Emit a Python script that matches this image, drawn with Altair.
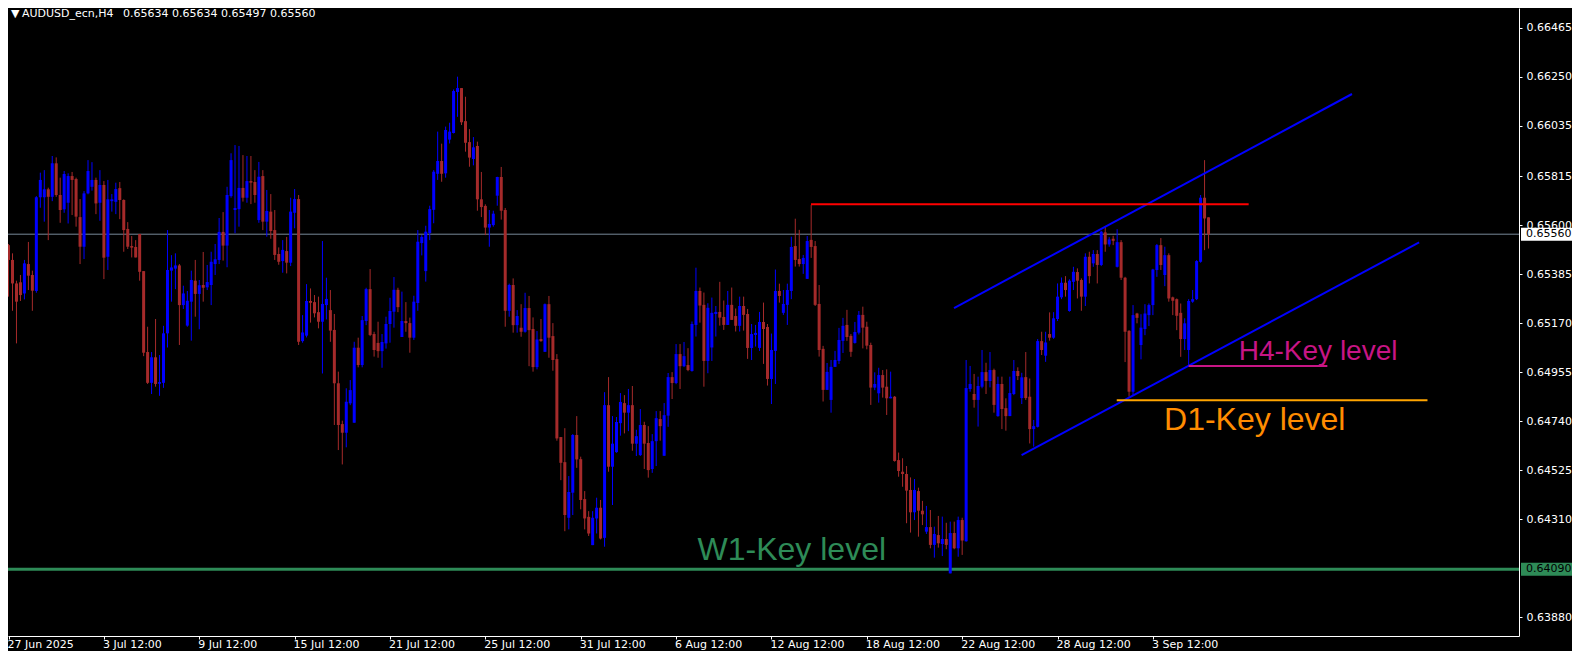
import altair as alt
import pandas as pd

# ---------------- data (AUDUSD_ecn, H4) ----------------
opens = [0.65512,0.65447,0.65344,0.65349,0.65300,0.65429,0.65381,0.65311,0.65722,0.65722,
0.65757,0.65724,0.65871,0.65732,0.65669,0.65698,0.65815,0.65802,0.65635,0.65505,
0.65739,0.65768,0.65798,0.65698,0.65776,0.65461,0.65705,0.65702,0.65762,0.65710,
0.65583,0.65508,0.65504,0.65561,0.65398,0.65043,0.64908,0.65020,0.64904,0.64908,
0.65125,0.65400,0.65409,0.65423,0.65249,0.65159,0.65264,0.65356,0.65298,0.65337,
0.65327,0.65337,0.65429,0.65447,0.65570,0.65510,0.65727,0.65666,0.65670,0.65763,
0.65720,0.65793,0.65789,0.65622,0.65815,0.65615,0.65659,0.65578,0.65473,0.65442,
0.65486,0.65435,0.65654,0.65714,0.65091,0.65115,0.65267,0.65262,0.65218,0.65176,
0.65249,0.65227,0.65140,0.64906,0.64727,0.64689,0.64818,0.64733,0.65062,0.64986,
0.65179,0.65319,0.65122,0.65083,0.65047,0.65081,0.65166,0.65220,0.65316,0.65109,
0.65179,0.65170,0.65106,0.65258,0.65521,0.65398,0.65565,0.65667,0.65825,0.65881,
0.65827,0.65975,0.66004,0.66184,0.66201,0.66056,0.65964,0.65890,0.65947,0.65713,
0.65684,0.65589,0.65600,0.65729,0.65811,0.65666,0.65224,0.65337,0.65161,0.65150,
0.65132,0.65236,0.65144,0.64977,0.65100,0.65044,0.65253,0.65113,0.65012,0.64670,
0.64560,0.64316,0.64426,0.64679,0.64573,0.64398,0.64320,0.64196,0.64313,0.64360,
0.64228,0.64810,0.64540,0.64604,0.64731,0.64819,0.64777,0.64810,0.64641,0.64591,
0.64723,0.64644,0.64530,0.64652,0.64749,0.64588,0.64764,0.64933,0.64907,0.65034,
0.64981,0.64986,0.64960,0.65162,0.65311,0.65250,0.65004,0.65063,0.65210,0.65219,
0.65197,0.65162,0.65250,0.65201,0.65158,0.65245,0.65210,0.65061,0.65118,0.65061,
0.65175,0.65153,0.64925,0.65048,0.65311,0.65215,0.65250,0.65311,0.65508,0.65451,
0.65429,0.65364,0.65535,0.65508,0.65254,0.65057,0.64877,0.64833,0.64978,0.65004,
0.65092,0.65162,0.65114,0.65083,0.65128,0.65206,0.65154,0.65074,0.64887,0.64862,
0.64942,0.64891,0.64840,0.64847,0.64569,0.64518,0.64508,0.64438,0.64340,0.64433,
0.64347,0.64255,0.64275,0.64197,0.64240,0.64201,0.64223,0.64072,0.64249,0.64182,
0.64306,0.64213,0.64881,0.64859,0.64833,0.64891,0.64955,0.64916,0.64964,0.64762,
0.64903,0.64797,0.64762,0.64859,0.64960,0.64841,0.64933,0.64847,0.64705,0.64715,
0.65091,0.65027,0.65122,0.65106,0.65188,0.65283,0.65347,0.65223,0.65351,0.65394,
0.65359,0.65286,0.65461,0.65432,0.65473,0.65425,0.65568,0.65515,0.65540,0.65417,
0.65525,0.65369,0.65136,0.64869,0.65212,0.65074,0.65144,0.65205,0.65249,0.65403,
0.65512,0.65381,0.65468,0.65283,0.65275,0.65215,0.65100,0.65052,0.65264,0.65275,
0.65439,0.65720,0.65634]

highs = [0.65517,0.65476,0.65356,0.65381,0.65447,0.65526,0.65400,0.65727,0.65830,0.65841,
0.65764,0.65903,0.65897,0.65808,0.65837,0.65827,0.65833,0.65808,0.65714,0.65749,
0.65885,0.65876,0.65808,0.65841,0.65793,0.65798,0.65736,0.65786,0.65789,0.65713,
0.65613,0.65552,0.65534,0.65561,0.65398,0.65154,0.65043,0.65188,0.65030,0.65158,
0.65578,0.65468,0.65476,0.65429,0.65334,0.65311,0.65400,0.65447,0.65359,0.65482,
0.65425,0.65483,0.65517,0.65631,0.65657,0.65768,0.65915,0.65951,0.65947,0.65907,
0.65903,0.65903,0.65841,0.65877,0.65841,0.65754,0.65736,0.65666,0.65502,0.65534,
0.65548,0.65720,0.65758,0.65732,0.65205,0.65341,0.65322,0.65293,0.65286,0.65530,
0.65369,0.65315,0.65210,0.64957,0.64742,0.64884,0.64920,0.65088,0.65106,0.65201,
0.65325,0.65407,0.65132,0.65176,0.65122,0.65198,0.65281,0.65372,0.65325,0.65308,
0.65262,0.65194,0.65290,0.65578,0.65556,0.65597,0.65685,0.65841,0.66010,0.65957,
0.66032,0.66049,0.66195,0.66251,0.66201,0.66163,0.66021,0.65986,0.65966,0.65833,
0.65691,0.65666,0.65663,0.65812,0.65855,0.65675,0.65343,0.65366,0.65227,0.65253,
0.65303,0.65289,0.65195,0.65135,0.65188,0.65256,0.65289,0.65170,0.65034,0.64670,
0.64709,0.64499,0.64683,0.64762,0.64584,0.64433,0.64345,0.64345,0.64404,0.64394,
0.64867,0.64933,0.64762,0.64758,0.64863,0.64854,0.64881,0.64894,0.64702,0.64793,
0.64737,0.64718,0.64683,0.64784,0.64784,0.64819,0.64951,0.64955,0.65078,0.65078,
0.65087,0.65060,0.65177,0.65413,0.65326,0.65304,0.65257,0.65282,0.65245,0.65351,
0.65269,0.65311,0.65326,0.65234,0.65286,0.65286,0.65232,0.65166,0.65162,0.65219,
0.65260,0.65166,0.65124,0.65405,0.65343,0.65315,0.65343,0.65549,0.65628,0.65579,
0.65469,0.65552,0.65688,0.65530,0.65337,0.65070,0.64995,0.65008,0.65048,0.65149,
0.65193,0.65228,0.65122,0.65175,0.65223,0.65242,0.65176,0.65084,0.64954,0.64974,
0.64964,0.64967,0.64957,0.64850,0.64602,0.64577,0.64543,0.64493,0.64486,0.64448,
0.64390,0.64368,0.64350,0.64277,0.64324,0.64321,0.64294,0.64299,0.64299,0.64321,
0.64316,0.65008,0.64982,0.64947,0.64935,0.65052,0.64996,0.65043,0.64970,0.64935,
0.64935,0.64840,0.64935,0.65008,0.64976,0.64952,0.65043,0.64927,0.64745,0.65100,
0.65132,0.65132,0.65217,0.65218,0.65344,0.65370,0.65376,0.65362,0.65417,0.65410,
0.65366,0.65476,0.65483,0.65490,0.65490,0.65575,0.65596,0.65547,0.65553,0.65582,
0.65534,0.65373,0.65139,0.65249,0.65215,0.65209,0.65253,0.65256,0.65408,0.65517,
0.65543,0.65505,0.65476,0.65286,0.65278,0.65256,0.65191,0.65275,0.65315,0.65446,
0.65732,0.65885,0.65634]

lows = [0.65286,0.65224,0.65081,0.65267,0.65274,0.65315,0.65224,0.65303,0.65676,0.65615,
0.65534,0.65705,0.65724,0.65610,0.65654,0.65607,0.65644,0.65593,0.65429,0.65451,
0.65735,0.65751,0.65648,0.65619,0.65363,0.65403,0.65659,0.65648,0.65626,0.65483,
0.65495,0.65458,0.65458,0.65356,0.65025,0.64903,0.64859,0.64891,0.64851,0.64886,
0.65063,0.65264,0.65319,0.65074,0.65232,0.65154,0.65093,0.65198,0.65143,0.65264,
0.65315,0.65249,0.65381,0.65429,0.65444,0.65415,0.65720,0.65564,0.65593,0.65703,
0.65698,0.65692,0.65698,0.65610,0.65578,0.65549,0.65540,0.65447,0.65426,0.65391,
0.65388,0.65420,0.65586,0.65074,0.65084,0.65107,0.65172,0.65195,0.65147,0.64949,
0.65186,0.65088,0.64723,0.64613,0.64550,0.64625,0.64810,0.64733,0.64976,0.64976,
0.65161,0.65113,0.65023,0.65018,0.64974,0.65058,0.65084,0.65150,0.65218,0.65109,
0.65132,0.65040,0.65096,0.65224,0.65467,0.65352,0.65534,0.65608,0.65798,0.65790,
0.65808,0.65958,0.66002,0.66075,0.66039,0.65922,0.65856,0.65862,0.65663,0.65635,
0.65556,0.65505,0.65593,0.65685,0.65624,0.65154,0.65198,0.65128,0.65128,0.65110,
0.65128,0.64981,0.64957,0.64967,0.65088,0.65044,0.65018,0.64961,0.64654,0.64481,
0.64257,0.64265,0.64328,0.64535,0.64353,0.64265,0.64236,0.64196,0.64247,0.64221,
0.64189,0.64518,0.64372,0.64601,0.64676,0.64686,0.64696,0.64610,0.64587,0.64587,
0.64530,0.64492,0.64513,0.64543,0.64654,0.64588,0.64715,0.64837,0.64902,0.64881,
0.64977,0.64959,0.64957,0.65111,0.65172,0.64891,0.64950,0.65004,0.65111,0.65159,
0.65140,0.65162,0.65184,0.65133,0.65133,0.65137,0.65013,0.65008,0.65067,0.65048,
0.64991,0.64896,0.64815,0.64903,0.65260,0.65206,0.65162,0.65275,0.65418,0.65418,
0.65386,0.65364,0.65456,0.65245,0.65023,0.64826,0.64877,0.64777,0.64978,0.64991,
0.65039,0.65092,0.65022,0.65080,0.65120,0.65059,0.65055,0.64811,0.64876,0.64821,
0.64843,0.64767,0.64840,0.64562,0.64496,0.64452,0.64292,0.64251,0.64306,0.64233,
0.64284,0.64245,0.64182,0.64141,0.64185,0.64148,0.64178,0.64072,0.64178,0.64145,
0.64153,0.64211,0.64869,0.64799,0.64716,0.64884,0.64859,0.64888,0.64777,0.64759,
0.64705,0.64698,0.64762,0.64854,0.64920,0.64815,0.64833,0.64642,0.64628,0.64712,
0.65030,0.65000,0.65093,0.65101,0.65179,0.65275,0.65286,0.65220,0.65315,0.65278,
0.65224,0.65245,0.65344,0.65417,0.65344,0.65420,0.65483,0.65505,0.65512,0.65414,
0.65359,0.64999,0.64847,0.64854,0.65169,0.65011,0.65117,0.65157,0.65205,0.65373,
0.65403,0.65332,0.65264,0.65205,0.65139,0.65022,0.65052,0.64986,0.65259,0.65271,
0.65435,0.65490,0.65497]

closes = [0.65447,0.65344,0.65264,0.65293,0.65432,0.65378,0.65312,0.65722,0.65798,0.65757,
0.65724,0.65871,0.65732,0.65666,0.65824,0.65815,0.65798,0.65637,0.65505,0.65739,
0.65837,0.65798,0.65695,0.65776,0.65457,0.65713,0.65713,0.65758,0.65710,0.65578,
0.65505,0.65501,0.65458,0.65395,0.65040,0.64908,0.65020,0.64903,0.64911,0.65125,
0.65403,0.65414,0.65423,0.65249,0.65300,0.65268,0.65359,0.65298,0.65336,0.65325,
0.65350,0.65439,0.65450,0.65570,0.65510,0.65732,0.65885,0.65675,0.65763,0.65720,
0.65793,0.65786,0.65732,0.65812,0.65615,0.65662,0.65574,0.65469,0.65439,0.65491,
0.65435,0.65659,0.65714,0.65088,0.65129,0.65267,0.65259,0.65213,0.65176,0.65254,
0.65276,0.65137,0.64906,0.64723,0.64689,0.64825,0.64876,0.65062,0.64986,0.65183,
0.65319,0.65118,0.65052,0.65047,0.65087,0.65166,0.65223,0.65316,0.65240,0.65179,
0.65170,0.65106,0.65264,0.65527,0.65548,0.65571,0.65670,0.65834,0.65881,0.65825,
0.66017,0.66010,0.66188,0.66201,0.66051,0.65961,0.65896,0.65941,0.65713,0.65679,
0.65589,0.65605,0.65650,0.65811,0.65663,0.65224,0.65337,0.65161,0.65201,0.65132,
0.65236,0.65139,0.64977,0.65098,0.65091,0.65253,0.65106,0.65008,0.64664,0.64557,
0.64328,0.64429,0.64679,0.64572,0.64394,0.64313,0.64247,0.64316,0.64360,0.64225,
0.64810,0.64540,0.64641,0.64736,0.64824,0.64777,0.64810,0.64641,0.64674,0.64723,
0.64641,0.64525,0.64652,0.64753,0.64718,0.64766,0.64933,0.64907,0.65034,0.64981,
0.65025,0.64964,0.65166,0.65311,0.65247,0.65004,0.65237,0.65215,0.65219,0.65194,
0.65162,0.65250,0.65184,0.65158,0.65245,0.65206,0.65061,0.65122,0.65127,0.65175,
0.65144,0.64925,0.65052,0.65311,0.65289,0.65254,0.65315,0.65504,0.65447,0.65429,
0.65456,0.65530,0.65504,0.65250,0.65052,0.64877,0.64956,0.64978,0.65008,0.65096,
0.65158,0.65109,0.65044,0.65131,0.65206,0.65150,0.65071,0.64887,0.64903,0.64942,
0.64887,0.64840,0.64847,0.64565,0.64521,0.64508,0.64435,0.64340,0.64438,0.64347,
0.64331,0.64275,0.64197,0.64245,0.64204,0.64223,0.64197,0.64249,0.64182,0.64306,
0.64216,0.64885,0.64903,0.64833,0.64894,0.64955,0.64916,0.64964,0.64811,0.64903,
0.64793,0.64762,0.64863,0.64960,0.64938,0.64932,0.64841,0.64705,0.64718,0.65091,
0.65052,0.65085,0.65106,0.65191,0.65286,0.65347,0.65315,0.65356,0.65395,0.65356,
0.65286,0.65461,0.65376,0.65473,0.65425,0.65571,0.65515,0.65537,0.65531,0.65525,
0.65369,0.65132,0.64869,0.65205,0.65193,0.65150,0.65212,0.65249,0.65405,0.65512,
0.65425,0.65468,0.65278,0.65268,0.65202,0.65100,0.65169,0.65267,0.65275,0.65442,
0.65720,0.65629,0.65560]

# time axis: bar numbers of the labelled ticks and their texts
tick_bars = [0, 24, 48, 72, 96, 120, 144, 168, 192, 216, 240, 264, 288]
tick_texts = ["27 Jun 2025", "3 Jul 12:00", "9 Jul 12:00", "15 Jul 12:00", "21 Jul 12:00",
              "25 Jul 12:00", "31 Jul 12:00", "6 Aug 12:00", "12 Aug 12:00", "18 Aug 12:00",
              "22 Aug 12:00", "28 Aug 12:00", "3 Sep 12:00"]

# price axis labels
price_ticks = [0.66465, 0.66250, 0.66035, 0.65815, 0.65600, 0.65385, 0.65170,
               0.64955, 0.64740, 0.64525, 0.64310, 0.63880]

# drawn objects
bid_price = 0.65560
w1_level = 0.64090
upper_channel_bars = [237.95, 338.1]
upper_channel_prices = [0.65236, 0.66175]
lower_channel_bars = [254.95, 355.0]
lower_channel_prices = [0.64591, 0.65524]
red_level = {"bar": 201.95, "bar2": 312.1, "price": 0.65691}
h4_level = {"bar": 297.0, "bar2": 331.9, "price": 0.64982}
d1_level = {"bar": 278.9, "bar2": 357.1, "price": 0.64831}

header_name = "AUDUSD_ecn,H4"
header_ohlc = "0.65634 0.65634 0.65497 0.65560"

# ---------------- chart ----------------
W, H = 1511, 628
X_DOMAIN = [1.125, 378.875]
Y_DOMAIN = [0.637973, 0.665523]
BULL, BEAR = "#0000FF", "#A52A2A"

bars = pd.DataFrame({"bar": list(range(len(opens))), "open": opens, "high": highs,
                     "low": lows, "close": closes})
bars["dir"] = ["up" if c >= o else "down" for o, c in zip(opens, closes)]

xs = alt.Scale(domain=X_DOMAIN, nice=False, zero=False)
ys = alt.Scale(domain=Y_DOMAIN, nice=False, zero=False)
col = alt.Color("dir:N", scale=alt.Scale(domain=["up", "down"], range=[BULL, BEAR]), legend=None)

FONT = "DejaVu Sans"

wicks = alt.Chart(bars).mark_rule(strokeWidth=1, clip=True).encode(
    x=alt.X("bar:Q", scale=xs, title=None,
            axis=alt.Axis(values=tick_bars, labels=False, ticks=True, tickSize=3,
                          tickColor="white", domainColor="white", grid=False)),
    y=alt.Y("high:Q", scale=ys, title=None,
            axis=alt.Axis(orient="right", values=price_ticks, format=".5f", tickSize=3,
                          labelPadding=4, tickColor="white", domainColor="white",
                          labelColor="white", labelFont=FONT, labelFontSize=11, grid=False)),
    y2="low:Q",
    color=col,
)
bodies = alt.Chart(bars).mark_bar(size=3, clip=True).encode(
    x=alt.X("bar:Q", title=None), y=alt.Y("open:Q", title=None), y2="close:Q", color=col)

hlines = pd.DataFrame({"price": [bid_price, w1_level], "w": [1, 3],
                       "c": ["#778899", "#2E8B57"]})
hrules = alt.Chart(hlines).mark_rule(clip=True).encode(
    y=alt.Y("price:Q", title=None),
    color=alt.Color("c:N", scale=None),
    strokeWidth=alt.StrokeWidth("w:Q", scale=None),
)

chan = pd.DataFrame({
    "line": ["up", "up", "low", "low"],
    "bar": upper_channel_bars + lower_channel_bars,
    "price": upper_channel_prices + lower_channel_prices,
})
channel = alt.Chart(chan).mark_line(color="#0000FF", strokeWidth=2, clip=True).encode(
    x=alt.X("bar:Q", title=None), y=alt.Y("price:Q", title=None), detail="line:N")

levels = pd.DataFrame([
    dict(red_level, c="#FF0000"),
    dict(h4_level, c="#C71585"),
    dict(d1_level, c="#FFA500"),
])
level_rules = alt.Chart(levels).mark_rule(strokeWidth=2, clip=True).encode(
    x=alt.X("bar:Q", title=None), x2="bar2:Q", y=alt.Y("price:Q", title=None),
    color=alt.Color("c:N", scale=None))

labels_df = pd.DataFrame([
    {"bar": 309.6, "price": 0.65008, "t": "H4-Key level", "c": "#C71585", "s": 28},
    {"bar": 290.8, "price": 0.64701, "t": "D1-Key level", "c": "#FF8C00", "s": 32},
    {"bar": 173.4, "price": 0.64131, "t": "W1-Key level", "c": "#2E8B57", "s": 32},
])
key_text = alt.Chart(labels_df).mark_text(align="left", baseline="alphabetic",
                                           font="Liberation Sans").encode(
    x=alt.X("bar:Q", title=None), y=alt.Y("price:Q", title=None), text="t:N",
    color=alt.Color("c:N", scale=None), size=alt.Size("s:Q", scale=None))

# time labels under the axis
xl = pd.DataFrame({"bar": tick_bars, "t": tick_texts})
x_labels = alt.Chart(xl).mark_text(align="left", baseline="middle", font=FONT, fontSize=11,
                                   color="white", dx=-1, clip=False).encode(
    x=alt.X("bar:Q", title=None), y=alt.value(636.8), text="t:N")

# price boxes on the right scale
box_half = 0.000285
pb = pd.DataFrame({"price": [bid_price, w1_level], "t": ["0.65560", "0.64090"],
                   "fill": ["#FFFFFF", "#2E8B57"], "tc": ["#000000", "#000000"]})
pb["top"] = pb["price"] + box_half
pb["bot"] = pb["price"] - box_half
boxes = alt.Chart(pb).mark_rect(clip=False).encode(
    x=alt.value(W + 2), x2=alt.value(W + 56),
    y=alt.Y("top:Q", title=None), y2="bot:Q",
    color=alt.Color("fill:N", scale=None))
box_text = alt.Chart(pb).mark_text(align="left", baseline="middle", font=FONT, fontSize=11,
                                   clip=False).encode(
    x=alt.value(W + 7), y=alt.Y("price:Q", title=None), text="t:N",
    color=alt.Color("tc:N", scale=None))

# header
hd = pd.DataFrame({"t": ["\u25BC", header_name, header_ohlc], "x": [3, 14, 115]})
header = alt.Chart(hd).mark_text(align="left", baseline="top", font=FONT, fontSize=11,
                                 color="white", clip=False).encode(
    x=alt.X("x:Q", scale=None), y=alt.value(0), text="t:N")

chart = alt.layer(
    hrules, wicks, bodies, channel, level_rules, key_text, x_labels, boxes, box_text, header
).properties(
    width=W, height=H,
    padding={"left": 0, "top": 0, "right": 53, "bottom": 15},
    autosize=alt.AutoSizeParams(type="none"),
    background="#000000",
).configure_view(stroke=None)

chart.save("out.html", embed_options={"renderer": "svg", "actions": False})
